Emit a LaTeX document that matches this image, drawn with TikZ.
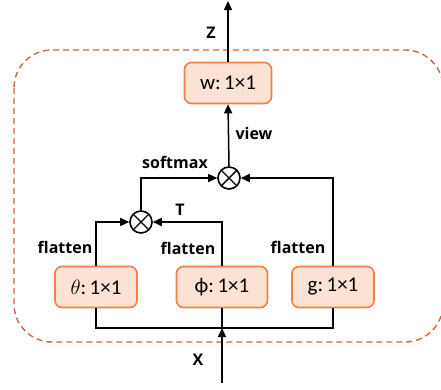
\documentclass[tikz,border=0pt]{standalone}
\usepackage{fontspec}
\setmainfont{Carlito}
\newfontfamily\lblfont{Open Sans}
\usetikzlibrary{arrows.meta,calc}
\definecolor{boxfill}{RGB}{251,226,212}
\definecolor{boxedge}{RGB}{240,128,72}
\definecolor{groupedge}{RGB}{208,102,60}
\tikzset{
  op/.style={draw=boxedge, fill=boxfill, line width=1.6pt, rounded corners=7pt,
    minimum height=41pt, inner sep=0pt, font=\fontsize{21}{24}\selectfont},
  mul/.style={draw, circle, line width=1.6pt, minimum size=22pt, inner sep=0pt,
    path picture={\draw[line width=1.4pt]
      (path picture bounding box.north west) -- (path picture bounding box.south east)
      (path picture bounding box.north east) -- (path picture bounding box.south west);}},
  lbl/.style={font=\lblfont\bfseries\fontsize{16}{19}\selectfont, inner sep=0pt},
  wire/.style={line width=1.5pt},
  flow/.style={wire, -{Triangle[length=9pt,width=8pt]}}
}
\begin{document}
\begin{tikzpicture}[x=1pt, y=-1pt]
\useasboundingbox (0,0) rectangle (441,389);
% dashed group outline
\begin{scope}
\clip (0,0) rectangle (441,389);
\draw[groupedge, line width=1.4pt, dash pattern=on 6pt off 4pt, rounded corners=38pt]
  (14,50) rectangle (443,342);
\end{scope}
% operator boxes
\node[op, minimum width=87pt] (w) at (228,83) {w:\,1×1};
\node[op, minimum width=82pt] (theta) at (96,287) {$\theta$:\,1×1};
\node[op, minimum width=91pt] (phi) at (222,287) {ϕ:\,1×1};
\node[op, minimum width=82pt] (g) at (333,287) {g:\,1×1};
% products
\node[mul] (m1) at (141,222) {};
\node[mul] (m2) at (229,178) {};
% end points
\coordinate (zout) at (228,1);
\coordinate (xin) at (222,383);
\coordinate (bus) at (0,328);
% connectors
\draw[flow] (theta.north) |- (m1.west);
\draw[flow] (phi.north) |- (m1.east);
\draw[flow] (m1.north) |- (m2.west);
\draw[flow] (g.north) |- (m2.east);
\draw[flow] (m2.north) -- (w.south);
\draw[flow] (w.north) -- (zout);
\draw[wire] (theta.south) -- (theta.south |- bus) -| (g.south);
\draw[wire] (phi.south) -- (phi.south |- bus);
\draw[flow] (xin) -- (xin |- bus);
% labels
\node[lbl] at (211,33) {Z};
\node[lbl] at (254,133) {view};
\node[lbl] at (175,162) {softmax};
\node[lbl] at (180,210) {T};
\node[lbl] at (65,247) {flatten};
\node[lbl] at (188,248) {flatten};
\node[lbl] at (298,247) {flatten};
\node[lbl] at (198,360) {X};
\end{tikzpicture}
\end{document}
